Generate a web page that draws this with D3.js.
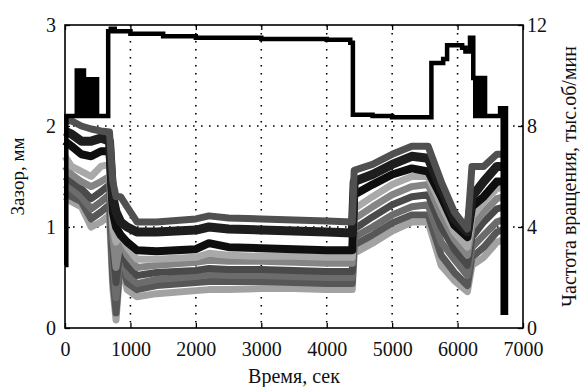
<!DOCTYPE html>
<html>
<head>
<meta charset="utf-8">
<script src="https://cdn.jsdelivr.net/npm/d3@7"></script>
<style>
body { margin: 0; background: #fff; }
text { font-family: "Liberation Serif", "DejaVu Serif", serif; fill: #111; }
</style>
</head>
<body>
<svg id="chart" width="580" height="387"></svg>
<script>
'use strict';

// time axis of the gap sensors, s
var gapTimes = [0, 100, 250, 400, 550, 680, 730, 780, 850, 950, 1100, 1400, 2000, 2200, 2500, 3000, 3500, 4000, 4390,
	4420, 4700, 5000, 5300, 5550, 5750, 5950, 6150, 6220, 6400, 6600, 6720];

// gap, mm (sensors ordered top to bottom)
var gapA = [2.05, 2.05, 2.00, 1.97, 1.95, 1.94, 1.45, 1.30, 1.30, 1.20, 1.05, 1.05, 1.08, 1.11, 1.09, 1.08, 1.07, 1.06, 1.05,
	1.56, 1.62, 1.72, 1.80, 1.80, 1.45, 1.15, 0.98, 1.60, 1.60, 1.72, 1.72];
var gapB = [1.95, 1.92, 1.85, 1.85, 1.88, 1.85, 1.30, 1.15, 1.05, 1.00, 0.95, 0.95, 0.97, 1.00, 0.98, 0.97, 0.96, 0.95, 0.94,
	1.45, 1.52, 1.62, 1.70, 1.68, 1.38, 1.08, 0.95, 1.30, 1.45, 1.60, 1.60];
var gapC = [1.85, 1.80, 1.72, 1.70, 1.75, 1.75, 1.15, 1.00, 0.92, 0.85, 0.77, 0.76, 0.78, 0.84, 0.80, 0.79, 0.78, 0.77, 0.77,
	1.32, 1.42, 1.52, 1.58, 1.55, 1.30, 1.02, 0.90, 1.20, 1.30, 1.45, 1.45];
var gapD = [1.70, 1.60, 1.55, 1.50, 1.60, 1.62, 1.00, 0.85, 0.92, 0.80, 0.68, 0.68, 0.70, 0.74, 0.72, 0.71, 0.71, 0.70, 0.70,
	1.18, 1.30, 1.42, 1.50, 1.50, 1.22, 0.95, 0.80, 1.10, 1.25, 1.38, 1.40];
var gapE = [1.60, 1.52, 1.45, 1.40, 1.45, 1.50, 0.90, 0.60, 0.88, 0.72, 0.60, 0.62, 0.65, 0.67, 0.66, 0.66, 0.65, 0.64, 0.64,
	1.08, 1.20, 1.32, 1.40, 1.42, 1.12, 0.88, 0.72, 1.00, 1.15, 1.28, 1.30];
var gapF = [1.50, 1.45, 1.38, 1.28, 1.35, 1.42, 0.80, 0.45, 0.82, 0.62, 0.52, 0.55, 0.57, 0.59, 0.58, 0.58, 0.57, 0.56, 0.56,
	0.98, 1.10, 1.22, 1.30, 1.32, 1.00, 0.78, 0.62, 0.90, 1.05, 1.18, 1.20];
var gapG = [1.42, 1.38, 1.30, 1.18, 1.25, 1.32, 0.70, 0.30, 0.78, 0.52, 0.44, 0.48, 0.51, 0.53, 0.52, 0.52, 0.51, 0.50, 0.50,
	0.90, 1.00, 1.12, 1.20, 1.22, 0.85, 0.68, 0.52, 0.80, 0.92, 1.05, 1.08];
var gapH = [1.35, 1.30, 1.25, 1.08, 1.15, 1.22, 0.50, 0.15, 0.72, 0.45, 0.38, 0.42, 0.45, 0.46, 0.46, 0.46, 0.45, 0.44, 0.44,
	0.82, 0.92, 1.04, 1.12, 1.12, 0.72, 0.55, 0.42, 0.70, 0.80, 0.95, 0.98];
var gapI = [1.30, 1.25, 1.20, 1.00, 1.05, 1.12, 0.40, 0.08, 0.68, 0.38, 0.31, 0.34, 0.37, 0.38, 0.38, 0.39, 0.39, 0.38, 0.38,
	0.74, 0.84, 0.96, 1.05, 1.05, 0.62, 0.47, 0.36, 0.62, 0.70, 0.85, 0.88];

// rotation speed, thousand rpm (low/high edge of the trace, step-wise)
var speedTimes = [0, 20, 180, 290, 490, 660, 700, 760, 1000, 1500, 2000, 3000, 4000, 4360, 4400, 4700, 5000,
	5600, 5780, 5840, 6070, 6120, 6190, 6240, 6270, 6420, 6650, 6690, 6740];
var speedLow = [2.5, 8.4, 8.4, 8.4, 8.4, 11.75, 11.85, 11.75, 11.65, 11.55, 11.5, 11.45, 11.42, 11.3, 8.45, 8.4, 8.35,
	10.5, 10.65, 11.2, 11.1, 10.95, 11.5, 9.9, 8.4, 8.4, 8.7, 0.6, 0.6];
var speedHigh = [2.5, 8.4, 10.2, 9.85, 8.4, 11.75, 11.85, 11.75, 11.65, 11.55, 11.5, 11.45, 11.42, 11.3, 8.45, 8.4, 8.35,
	10.5, 10.65, 11.2, 11.1, 10.95, 11.5, 9.9, 9.9, 8.4, 8.7, 8.7, 0.6];

var xTicks = [0, 1000, 2000, 3000, 4000, 5000, 6000, 7000];
var gapTicks = [0, 1, 2, 3];
var speedTicks = [0, 4, 8, 12];

var gapColors = ['#a2a2a2', '#575757', '#6c6c6c', '#4a4a4a', '#858585', '#a9a9a9', '#0e0e0e', '#1e1e1e', '#505050'];
var gapWidths = [7, 7, 7, 7, 7, 7, 8, 9, 7];

var margin = {left: 65, top: 25, right: 57, bottom: 59};
var svg = d3.select('#chart');
var W = 580 - margin.left - margin.right;
var H = 387 - margin.top - margin.bottom;

var x = d3.scaleLinear().domain([0, 7000]).range([0, W]);
var yGap = d3.scaleLinear().domain([0, 3]).range([H, 0]);
var ySpeed = d3.scaleLinear().domain([0, 12]).range([H, 0]);

var g = svg.append('g').attr('transform', 'translate(' + margin.left + ',' + margin.top + ')');

// dotted grid
var grid = g.append('g').attr('stroke', '#000').attr('stroke-width', 1.6).attr('stroke-dasharray', '1.6,6.4');
grid.selectAll('.vx').data(xTicks.slice(1, -1)).enter().append('line')
	.attr('x1', function(d) { return x(d); }).attr('x2', function(d) { return x(d); })
	.attr('y1', 0).attr('y2', H);
grid.selectAll('.hy').data(gapTicks.slice(1, -1)).enter().append('line')
	.attr('x1', 0).attr('x2', W)
	.attr('y1', function(d) { return yGap(d); }).attr('y2', function(d) { return yGap(d); });

// gap sensors, drawn bottom one first
var gapSeries = [gapI, gapH, gapG, gapF, gapE, gapD, gapC, gapB, gapA];
var gapLine = d3.line()
	.x(function(d, i) { return x(gapTimes[i]); })
	.y(function(d) { return yGap(d); });

g.append('g').selectAll('path').data(gapSeries).enter().append('path')
	.attr('d', gapLine)
	.attr('fill', 'none')
	.attr('stroke', function(d, i) { return gapColors[i]; })
	.attr('stroke-width', function(d, i) { return gapWidths[i]; })
	.attr('stroke-linejoin', 'round');

// speed trace
var speedArea = d3.area()
	.curve(d3.curveStepAfter)
	.x(function(d) { return x(d); })
	.y0(function(d, i) { return ySpeed(speedLow[i]); })
	.y1(function(d, i) { return ySpeed(speedHigh[i]); });

g.append('path')
	.datum(speedTimes)
	.attr('d', speedArea)
	.attr('fill', '#000')
	.attr('stroke', '#000')
	.attr('stroke-width', 4.5);

// axes, ticks point inwards
function styleAxis(sel) {
	sel.select('.domain').remove();
	sel.attr('font-family', null).attr('font-size', null);
	sel.selectAll('line').attr('stroke', '#000').attr('stroke-width', 1.3);
	sel.selectAll('text').style('font-size', '20px').attr('fill', '#111');
}

g.append('g').attr('transform', 'translate(0,' + H + ')')
	.call(d3.axisBottom(x).tickValues(xTicks).tickSize(-5).tickPadding(14).tickFormat(d3.format('d')))
	.call(styleAxis);
g.append('g')
	.call(d3.axisTop(x).tickValues(xTicks).tickSize(-5).tickFormat(''))
	.call(styleAxis);
g.append('g')
	.call(d3.axisLeft(yGap).tickValues(gapTicks).tickSize(-5).tickPadding(9).tickFormat(d3.format('d')))
	.call(styleAxis);
g.append('g').attr('transform', 'translate(' + W + ',0)')
	.call(d3.axisRight(ySpeed).tickValues(speedTicks).tickSize(-5).tickPadding(4).tickFormat(d3.format('d')))
	.call(styleAxis);

g.append('rect')
	.attr('width', W).attr('height', H)
	.attr('fill', 'none').attr('stroke', '#000').attr('stroke-width', 1.6);

// titles
svg.append('text')
	.attr('x', margin.left + W / 2).attr('y', 383)
	.attr('text-anchor', 'middle')
	.style('font-size', '20px')
	.text('Время, сек');

svg.append('text')
	.attr('transform', 'translate(24,' + (margin.top + H / 2) + ') rotate(-90)')
	.attr('text-anchor', 'middle')
	.style('font-size', '19px')
	.text('Зазор, мм');

svg.append('text')
	.attr('transform', 'translate(576,' + (margin.top + H / 2) + ') rotate(-90)')
	.attr('text-anchor', 'middle')
	.style('font-size', '20px')
	.text('Частота вращения, тыс.об/мин');
</script>
</body>
</html>
